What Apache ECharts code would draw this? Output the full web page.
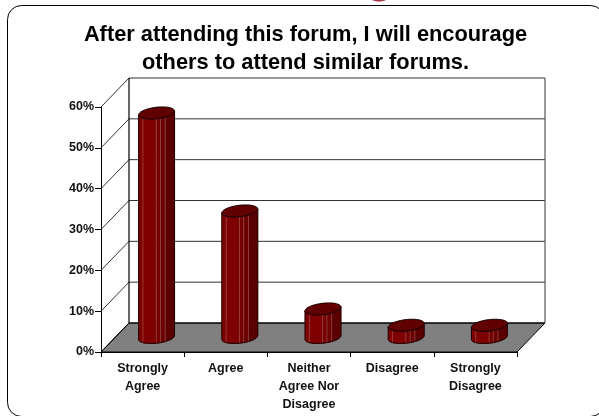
<!DOCTYPE html>
<html><head><meta charset="utf-8">
<style>html,body{margin:0;padding:0;background:#fff}#c{width:599px;height:416px}</style>
<script src="https://cdn.jsdelivr.net/npm/echarts@6/dist/echarts.min.js"></script>
</head><body><div id="c"></div>
<script>
var categories = ['Strongly\nAgree', 'Agree', 'Neither\nAgree Nor\nDisagree', 'Disagree', 'Strongly\nDisagree'];
var values = [55, 31, 7, 3, 3];
var yTicks = [0, 10, 20, 30, 40, 50, 60];
var titleText = 'After attending this forum, I will encourage\nothers to attend similar forums.';

var DX = 28, DY = -29;
var RX = 17, VX = 5.8, VY = 6;
var FRACS = [0, .12, .49, .61, .74, 1];
var SHADES = ['#7e0000', '#7e0000', '#740000', '#6a0000', '#5a0000'];
var T0 = Math.atan2(VX, RX);

function ep(cx, cy, t) { return [cx + RX * Math.cos(t) + VX * Math.sin(t), cy - VY * Math.sin(t)]; }
function tOf(f) { return T0 + Math.PI + Math.acos(1 - 2 * f); }
function arc(cx, cy, a, b, n) { var r = []; for (var i = 0; i <= n; i++) r.push(ep(cx, cy, a + (b - a) * i / n)); return r; }

function wallItem(params, api) {
  var n = categories.length;
  var x0 = api.coord([0, 0])[0] - api.size([1, 0])[0] / 2;
  var x1 = x0 + api.size([1, 0])[0] * n;
  var y0 = api.coord([0, 0])[1], y6 = api.coord([0, yTicks[yTicks.length - 1]])[1];
  var kids = [];
  kids.push({ type: 'polygon', shape: { points: [[x0, y0], [x1, y0], [x1 + DX, y0 + DY], [x0 + DX, y0 + DY]] },
    style: { fill: '#808080', stroke: '#000', lineWidth: 1 } });
  yTicks.forEach(function (v) {
    var y = api.coord([0, v])[1];
    kids.push({ type: 'polyline', shape: { points: [[x0, y], [x0 + DX, y + DY], [x1 + DX, y + DY]] },
      style: { fill: 'none', stroke: v === 0 ? '#000' : '#333', lineWidth: 1 } });
  });
  kids.push({ type: 'line', shape: { x1: x0 + DX, y1: y0 + DY, x2: x0 + DX, y2: y6 + DY }, style: { stroke: '#000', lineWidth: 1.2 } });
  kids.push({ type: 'line', shape: { x1: x1 + DX, y1: y0 + DY, x2: x1 + DX, y2: y6 + DY }, style: { stroke: '#555', lineWidth: 1.2 } });
  return { type: 'group', children: kids };
}

function barItem(params, api) {
  var base = api.coord([api.value(0), 0]), top = api.coord([api.value(0), api.value(1)]);
  var cx = base[0] + DX / 2, by = base[1] + DY / 2, ty = top[1] + DY / 2;
  var kids = [];
  for (var i = 0; i < SHADES.length; i++) {
    var a = tOf(FRACS[i]), b = tOf(FRACS[i + 1]);
    var pts = arc(cx, ty, a, b, 6).concat(arc(cx, by, b, a, 6));
    kids.push({ type: 'polygon', shape: { points: pts }, style: { fill: SHADES[i], stroke: SHADES[i], lineWidth: 0.5 } });
    if (i > 0) {
      var t = tOf(FRACS[i]);
      kids.push({ type: 'line', shape: { x1: ep(cx, ty, t)[0], y1: ep(cx, ty, t)[1], x2: ep(cx, by, t)[0], y2: ep(cx, by, t)[1] },
        style: { stroke: '#b06a6a', lineWidth: 0.7, opacity: 0.75 } });
    }
  }
  var sil = arc(cx, ty, T0 + Math.PI, T0 + 2 * Math.PI, 24).concat(arc(cx, by, T0 + 2 * Math.PI, T0 + Math.PI, 24));
  kids.push({ type: 'polygon', shape: { points: sil }, style: { fill: 'none', stroke: '#1c0000', lineWidth: 1 } });
  kids.push({ type: 'polygon', shape: { points: arc(cx, ty, 0, 2 * Math.PI, 48) }, style: { fill: '#600000', stroke: '#1c0000', lineWidth: 1 } });
  return { type: 'group', children: kids };
}

var chart = echarts.init(document.getElementById('c'), null, { renderer: 'canvas' });
chart.setOption({
  animation: false,
  backgroundColor: '#fff',
  graphic: [
    { type: 'rect', z: 0, shape: { x: 7.5, y: 5.5, width: 597, height: 411, r: 14 }, style: { fill: '#fff', stroke: '#000', lineWidth: 1 } },
    { type: 'ellipse', z: 0, shape: { cx: 379, cy: -4, rx: 10, ry: 5.5 }, style: { fill: '#a83048' } }
  ],
  title: { text: titleText, left: 300.5, top: 16, textAlign: 'center',
    textStyle: { fontFamily: 'Liberation Sans', fontWeight: 'bold', fontSize: 21.8, lineHeight: 28, color: '#000' } },
  grid: { left: 101, right: 82, top: 107, bottom: 64, containLabel: false },
  xAxis: { type: 'category', data: categories,
    axisLine: { lineStyle: { color: '#000', width: 1 } },
    axisTick: { show: true, length: 5, lineStyle: { color: '#000' }, alignWithLabel: false },
    splitLine: { show: false },
    axisLabel: { interval: 0, margin: 8, color: '#111', fontFamily: 'Liberation Sans', fontWeight: 'bold', fontSize: 12.5, lineHeight: 17.7 } },
  yAxis: { type: 'value', min: 0, max: 60, interval: 10,
    axisLine: { show: true, lineStyle: { color: '#000', width: 1 } },
    axisTick: { show: true, length: 6, lineStyle: { color: '#000' } },
    splitLine: { show: false },
    axisLabel: { formatter: '{value}%', margin: 7, color: '#111', fontFamily: 'Liberation Sans', fontWeight: 'bold', fontSize: 12.5 } },
  series: [
    { type: 'custom', z: 1, silent: true, renderItem: wallItem, data: [[0, 0]], clip: false },
    { type: 'custom', z: 3, silent: true, renderItem: barItem, clip: false,
      encode: { x: 0, y: 1 },
      data: values.map(function (v, i) { return [i, v]; }) }
  ]
});
</script></body></html>
